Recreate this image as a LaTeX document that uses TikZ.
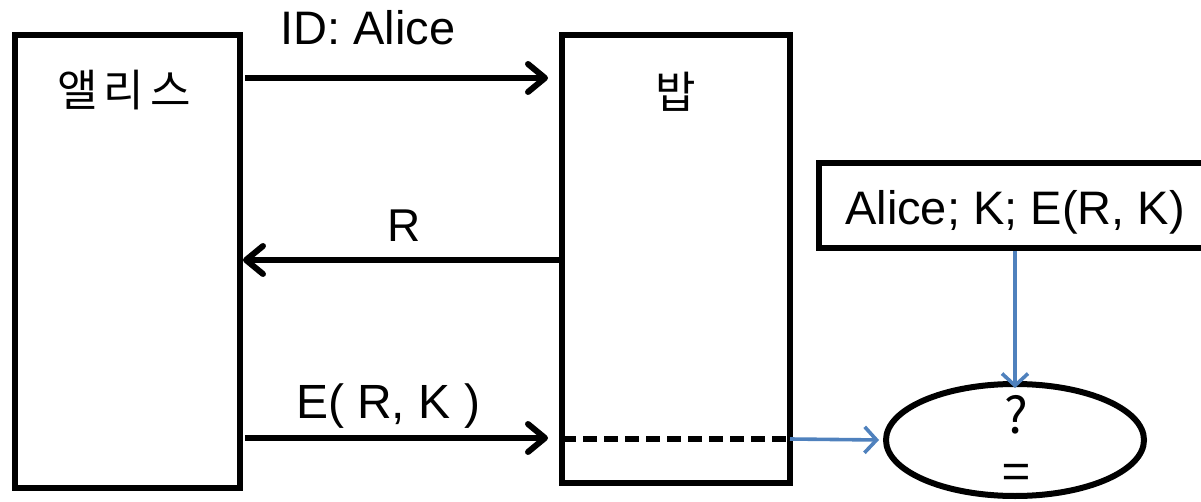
\documentclass[tikz,border=0pt]{standalone}
\usepackage{fontspec}
\setmainfont{Liberation Sans}
\newfontfamily\kfont{Noto Sans CJK KR}
\usetikzlibrary{arrows.meta,shapes.geometric}
\definecolor{officeblue}{HTML}{4F81BD}
\tikzset{
  box/.style={draw=black,line width=6pt,rectangle,inner sep=0pt},
  arr/.style={draw=black,line width=6pt,-{Straight Barb[length=17pt,width=28pt,line width=6pt,round]}},
  barr/.style={draw=officeblue,line width=3.6pt,-{Straight Barb[length=12pt,width=26pt,line width=3.6pt]}},
  big/.style={font=\fontsize{47}{50}\selectfont,inner sep=0pt,anchor=base},
  kbig/.style={font=\kfont\fontsize{44}{50}\selectfont,inner sep=0pt},
  small/.style={font=\kfont\fontsize{50}{52}\selectfont,inner sep=0pt,anchor=base},
}
\begin{document}
\begin{tikzpicture}[x=1pt,y=-1pt]
\useasboundingbox (0,0) rectangle (1201,502);
\clip (0,0) rectangle (1201,502);
\node[box,minimum width=225pt,minimum height=453pt] (alice) at (127.5,261.5) {};
\node[box,minimum width=228pt,minimum height=448pt] (bob) at (676,259) {};
\node[kbig] (alabel) at (124,90) {앨\hspace{6pt}리\hspace{6pt}스};
\node[kbig] (blabel) at (676,92) {밥};
\node[box,minimum width=394pt,minimum height=85pt] (info) at (1016,205.5) {};
\node[big] (infot) at (1015,225) {Alice; K; E(R, K)};
\node[draw=black,line width=6pt,ellipse,minimum width=258pt,minimum height=112pt,inner sep=0pt] (cmp) at (1015,440) {};
\node[small] (q) at (1016,433) {?};
\node[small] (eq) at (1016,490) {=};
\coordinate (a1s) at (245,78);
\coordinate (a1e) at (548,78);
\coordinate (a2s) at (560,260);
\coordinate (a2e) at (243,260);
\coordinate (a3s) at (245,438);
\coordinate (a3e) at (548,438);
\draw[arr] (a1s) -- (a1e);
\draw[arr] (a2s) -- (a2e);
\draw[arr] (a3s) -- (a3e);
\node[big] (l1) at (368,45) {ID: Alice};
\node[big,font=\fontsize{46}{48}\selectfont] (l2) at (404,242) {R};
\node[big,font=\fontsize{48}{50}\selectfont] (l3) at (388,418) {E( R, K )};
\coordinate (d1) at (562,439);
\coordinate (d2) at (790,439);
\draw[black,line width=6pt,dash pattern=on 14pt off 7pt] (d1) -- (d2);
\draw[barr] (d2) -- ([xshift=-4pt]cmp.west);
\draw[barr] (info.south -| cmp.north) -- ([yshift=-7pt]cmp.north);
\end{tikzpicture}
\end{document}
